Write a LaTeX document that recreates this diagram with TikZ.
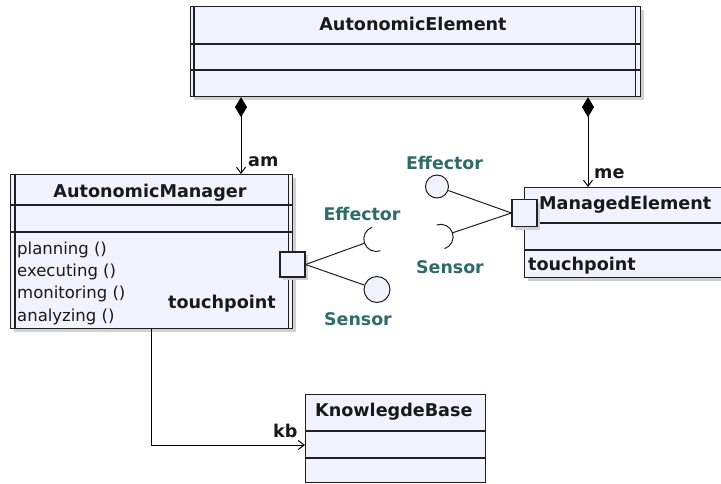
\documentclass[tikz,border=0pt]{standalone}
\usepackage{fontspec}
\setmainfont{DejaVu Sans}
\usetikzlibrary{arrows.meta,calc}
\definecolor{boxfill}{HTML}{F2F2FE}
\definecolor{edge}{HTML}{202020}
\definecolor{ifteal}{HTML}{2F6B6B}
\begin{document}
\begin{tikzpicture}[x=1pt,y=-1pt,
 cls/.style={draw=edge, fill=boxfill, line width=1.1pt, rectangle, inner sep=0pt, anchor=north west},
 shade/.style={fill=black!18, draw=none},
 sep/.style={draw=edge, line width=1.1pt},
 ttl/.style={font=\bfseries\fontsize{17.6}{20}\selectfont, inner sep=0pt, text=black!90},
 ops/.style={font=\fontsize{16.5}{19}\selectfont, inner sep=0pt, anchor=base west, text=black!90},
 iface/.style={font=\bfseries\fontsize{17.4}{20}\selectfont, inner sep=0pt, anchor=base, text=ifteal},
 port/.style={draw=edge, fill=boxfill, line width=1.1pt, inner sep=0pt, minimum width=25, minimum height=25},
 lolli/.style={circle, draw=edge, fill=boxfill, line width=1pt, inner sep=0pt},
 wire/.style={draw=edge, line width=1pt},
 agg/.style={draw=black, line width=1pt, {Diamond[length=20pt,width=12pt]}-{Straight Barb[length=6pt,width=9pt]}},
 assoc/.style={draw=black, line width=1pt, -{Straight Barb[length=6pt,width=9pt]}}
]
\useasboundingbox (0,0) rectangle (721,483);
\clip (0,0) rectangle (721,483);

% shadows
\fill[shade] (194,10) rectangle (644,100);
\fill[shade] (14,178) rectangle (296,332);
\fill[shade] (528,191) rectangle (729,281);

% AutonomicElement
\node[cls, minimum width=450, minimum height=90] (ae) at (190,6) {};
\draw[sep] ($(ae.north west)+(0,38)$) -- ($(ae.north east)+(0,38)$);
\draw[sep] ($(ae.north west)+(0,64)$) -- ($(ae.north east)+(0,64)$);
\draw[sep] ($(ae.north west)+(4,0)$) -- ($(ae.south west)+(4,0)$);
\draw[sep] ($(ae.north east)+(-6,0)$) -- ($(ae.south east)+(-6,0)$);
\node[ttl, anchor=base] (aet) at (413,30) {AutonomicElement};

% AutonomicManager
\node[cls, minimum width=282, minimum height=154] (am) at (10,174) {};
\draw[sep] ($(am.north west)+(0,31)$) -- ($(am.north east)+(0,31)$);
\draw[sep] ($(am.north west)+(0,58)$) -- ($(am.north east)+(0,58)$);
\draw[sep] ($(am.north west)+(5,0)$) -- ($(am.south west)+(5,0)$);
\draw[sep] ($(am.north east)+(-5,0)$) -- ($(am.south east)+(-5,0)$);
\node[ttl, anchor=base] (amt) at (150,197) {AutonomicManager};
\node[ops] (op1) at (17,254) {planning ()};
\node[ops] (op2) at (17,276) {executing ()};
\node[ops] (op3) at (17,298) {monitoring ()};
\node[ops] (op4) at (17,321) {analyzing ()};
\node[ttl, anchor=base west] (amtp) at (168,308) {touchpoint};

% ManagedElement
\node[cls, minimum width=210, minimum height=90] (me) at (524,187) {};
\draw[sep] ($(me.north west)+(0,36)$) -- ($(me.north east)+(0,36)$);
\draw[sep] ($(me.north west)+(0,63)$) -- ($(me.north east)+(0,63)$);
\node[ttl, anchor=base west] (met) at (539,209) {ManagedElement};
\node[ttl, anchor=base west] (metp) at (528,270) {touchpoint};

% KnowlegdeBase
\node[cls, minimum width=180, minimum height=88] (kb) at (305,394) {};
\draw[sep] ($(kb.north west)+(0,37)$) -- ($(kb.north east)+(0,37)$);
\draw[sep] ($(kb.north west)+(0,64)$) -- ($(kb.north east)+(0,64)$);
\node[ttl, anchor=base west] (kbt) at (315,416) {KnowlegdeBase};

% ports
\fill[shade] (283,255) rectangle (308,280);
\node[port] (amport) at (292.5,264.5) {};
\fill[shade] (515,203) rectangle (540,230);
\node[port, minimum height=27] (meport) at (524.5,213) {};

% interfaces of AutonomicManager
\coordinate (ameff) at (365,243);
\node[lolli, minimum size=26] (amsens) at (377,289.5) {};
\draw[wire] (amport.east) -- (ameff);
\draw[wire] (amport.east) -- (amsens);
\draw[wire] (376.3,239) ++(70.7:12.5) arc[start angle=70.7, end angle=250.7, radius=12.5];
\node[iface] (amefft) at (362,220) {Effector};
\node[iface] (amsenst) at (358,325) {Sensor};

% interfaces of ManagedElement
\node[lolli, minimum size=23] (meeff) at (437,186.5) {};
\coordinate (mesens) at (452,233);
\draw[wire] (meport.west) -- (meeff);
\draw[wire] (meport.west) -- (mesens);
\draw[wire] (440.6,236.8) ++(-108.4:12.5) arc[start angle=-108.4, end angle=71.6, radius=12.5];
\node[iface] (meefft) at (444.5,169) {Effector};
\node[iface] (mesenst) at (450,273) {Sensor};

% associations
\coordinate (amx) at (241,0);
\coordinate (mex) at (588,0);
\coordinate (kbj) at (151,445);
\draw[agg] (ae.south -| amx) -- (am.north -| amx);
\draw[agg] (ae.south -| mex) -- (me.north -| mex);
\draw[assoc] (am.south -| kbj) |- (kb.west |- kbj);
\node[ttl, anchor=base west] (aml) at (248,166) {am};
\node[ttl, anchor=base west] (mel) at (594,178) {me};
\node[ttl, anchor=base west] (kbl) at (273,437) {kb};
\end{tikzpicture}
\end{document}
